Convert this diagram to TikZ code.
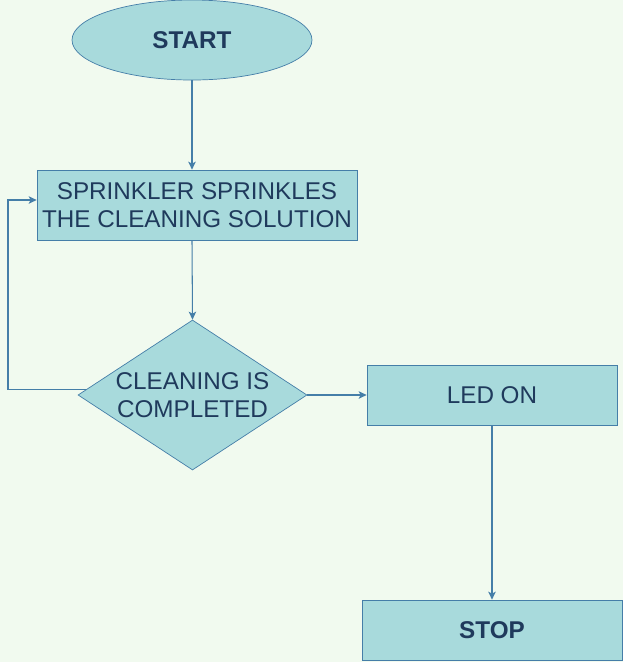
\documentclass[tikz,border=0pt]{standalone}
\usepackage{fontspec}
\setmainfont{Liberation Sans}
\usepackage{tikz}
\usetikzlibrary{arrows.meta,calc,positioning,shapes.geometric}
\definecolor{bgc}{HTML}{F1FAEF}
\definecolor{fillc}{HTML}{A8DADC}
\definecolor{linec}{HTML}{457EA8}
\definecolor{textc}{HTML}{1F3A5C}
\tikzset{box/.style={draw=linec,fill=fillc,text=textc,align=center,inner sep=0pt,font=\fontsize{13.8}{16}\selectfont},
  term/.style={box,ellipse,font=\fontsize{13.8}{16}\selectfont\bfseries},
  dec/.style={box,diamond,shape aspect=1.53},
  arr/.style={-{Stealth[length=1.6mm,width=1.5mm,inset=0.4mm]},linec,semithick}}

\begin{document}
\begin{tikzpicture}
\fill[bgc] (0,0) rectangle (12.46,-13.24);
\useasboundingbox (0,0) rectangle (12.46,-13.24);
\node[term,minimum width=4.8cm,minimum height=1.6cm] (start) at (3.84,-0.8) {START};
\node[box,minimum width=6.4cm,minimum height=1.4cm] (spray) at (3.94,-4.1) {SPRINKLER SPRINKLES\\THE CLEANING SOLUTION};
\node[dec,minimum width=4.58cm,minimum height=3cm] (done) at (3.85,-7.9) {CLEANING IS\\COMPLETED};
\node[box,minimum width=5cm,minimum height=1.2cm] (led) at (9.84,-7.9) {LED ON};
\node[box,minimum width=5.2cm,minimum height=1.2cm,font=\fontsize{13.8}{16}\selectfont\bfseries] (stop) at (9.84,-12.6) {STOP};
\coordinate (loop) at (0.16,-7.8);
\coordinate (back) at ($(spray.west)+(0,0.1)$);
\draw[arr] (start.south) -- (start.south|-spray.north);
\draw[arr] (start.south|-spray.south) -- (done.north);
\draw[arr] (done.177) -- (done.177-|loop) |- (back);
\draw[arr] (done.east) -- (led.west);
\draw[arr] (led.south) -- (stop.north);
\end{tikzpicture}
\end{document}
